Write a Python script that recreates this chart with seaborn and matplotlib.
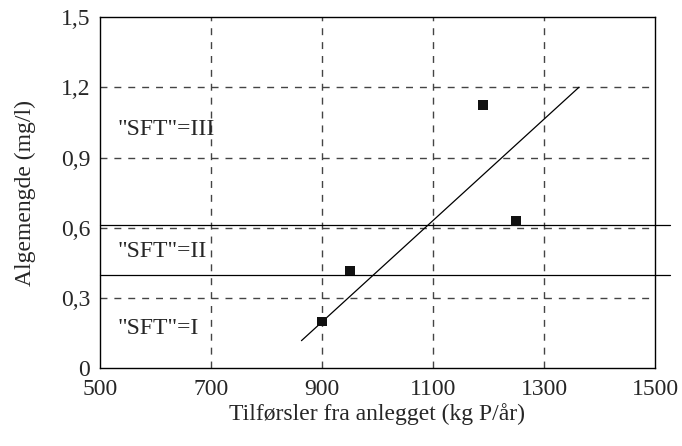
import pandas as pd
import matplotlib
matplotlib.use("Agg")
import matplotlib.pyplot as plt
import seaborn as sns

# Measured points (kg P/year vs algae mg/l)
tilforsel = [900, 950, 1190, 1250]
algemengde = [0.20, 0.417, 1.124, 0.628]

# Hand-drawn trend line endpoints
trend_x = [863, 1363]
trend_y = [0.118, 1.20]

# Class boundaries ("SFT" classes)
grenser = [0.40, 0.61]
klasse_tekst = ['"SFT"=III', '"SFT"=II', '"SFT"=I']
klasse_y = [1.018, 0.497, 0.172]

x_ticks = [500, 700, 900, 1100, 1300, 1500]
y_ticks = [0, 0.3, 0.6, 0.9, 1.2, 1.5]
y_ticklabels = ["0", "0,3", "0,6", "0,9", "1,2", "1,5"]

sns.set_style("white")
plt.rcParams["font.family"] = ["Liberation Serif", "DejaVu Serif"]
fs = 17

pts = pd.DataFrame({"x": tilforsel, "y": algemengde})
trend = pd.DataFrame({"x": trend_x, "y": trend_y})

fig = plt.figure(figsize=(6.82, 4.46), dpi=100)
ax = fig.add_axes([0.1466, 0.1742, 0.8138, 0.7877])

# dashed grid
for xv in x_ticks[1:-1]:
    ax.axvline(xv, color="#444444", lw=1.0, ls=(0, (5, 5)), zorder=1)
for yv in y_ticks[1:-1]:
    ax.axhline(yv, color="#444444", lw=1.0, ls=(0, (5, 5)), zorder=1)

# class boundaries run past the right edge
for g in grenser:
    ax.plot([500, 1527], [g, g], color="black", lw=0.9, clip_on=False, zorder=2)

sns.lineplot(data=trend, x="x", y="y", color="black", lw=0.9, ax=ax, zorder=3)
sns.scatterplot(data=pts, x="x", y="y", marker="s", s=48, color="#111111",
                edgecolor="none", ax=ax, zorder=4)

for t, yv in zip(klasse_tekst, klasse_y):
    ax.text(532, yv, t, va="center", ha="left", fontsize=fs)

ax.set_xlim(500, 1500)
ax.set_ylim(0, 1.5)
ax.set_xticks(x_ticks)
ax.set_yticks(y_ticks)
ax.set_yticklabels(y_ticklabels)
ax.tick_params(axis="y", length=0, pad=7, labelsize=fs)
ax.tick_params(axis="x", length=0, pad=8, labelsize=fs)
for s in ax.spines.values():
    s.set_color("black")
    s.set_linewidth(1.0)

ax.set_xlabel("Tilførsler fra anlegget (kg P/år)", fontsize=fs, labelpad=2)
ax.set_ylabel("Algemengde (mg/l)", fontsize=fs, labelpad=18)

fig.savefig("out.png", dpi=100)
